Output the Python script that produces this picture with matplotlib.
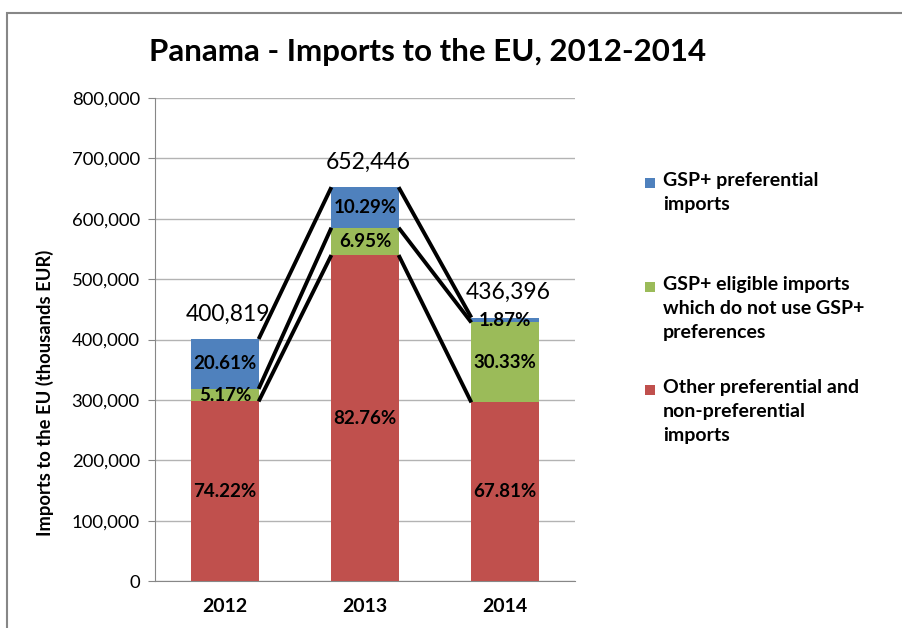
import matplotlib
matplotlib.use('Agg')
import matplotlib.pyplot as plt
from matplotlib.patches import Rectangle
from matplotlib.ticker import FuncFormatter

# data
years = ['2012', '2013', '2014']
totals = [400819, 652446, 436396]
pct_other = [74.22, 82.76, 67.81]
pct_eligible = [5.17, 6.95, 30.33]
pct_gsp = [20.61, 10.29, 1.87]

series_names = [
	'GSP+ preferential\nimports',
	'GSP+ eligible imports\nwhich do not use GSP+\npreferences',
	'Other preferential and\nnon-preferential\nimports',
]
colors = ['#4f81bd', '#9bbb59', '#c0504d']

plt.rcParams['font.family'] = ['Lato', 'DejaVu Sans']

# values from shares
other = [t * p / 100 for t, p in zip(totals, pct_other)]
eligible = [t * p / 100 for t, p in zip(totals, pct_eligible)]
gsp = [t * p / 100 for t, p in zip(totals, pct_gsp)]

fig = plt.figure(figsize=(9.03, 6.28), dpi=100)
ax = fig.add_axes([0.1717, 0.0748, 0.465, 0.769])

# outer frame
fig.patches.append(Rectangle((7 / 903, -0.1), 1.2, 1 - 13 / 628 + 0.1,
	transform=fig.transFigure, fill=False, edgecolor='#878787', linewidth=1.5))

x = range(len(years))
w = 0.48
ax.bar(x, other, w, color=colors[2], zorder=3)
ax.bar(x, eligible, w, bottom=other, color=colors[1], zorder=3)
bottom2 = [a + b for a, b in zip(other, eligible)]
ax.bar(x, gsp, w, bottom=bottom2, color=colors[0], zorder=3)
tops = [a + b for a, b in zip(bottom2, gsp)]

# series lines
for level in (other, bottom2, tops):
	for i in range(len(years) - 1):
		ax.plot([i + w / 2, i + 1 - w / 2], [level[i], level[i + 1]],
			color='black', linewidth=2.8, zorder=4, solid_capstyle='butt')

# percent labels
for i in x:
	ax.text(i, other[i] / 2, '%.2f%%' % pct_other[i], ha='center', va='center',
		fontsize=13.5, fontweight='bold', zorder=5)
	ax.text(i, other[i] + eligible[i] / 2, '%.2f%%' % pct_eligible[i], ha='center',
		va='center', fontsize=13.5, fontweight='bold', zorder=5)
	ax.text(i, bottom2[i] + gsp[i] / 2, '%.2f%%' % pct_gsp[i], ha='center',
		va='center', fontsize=13.5, fontweight='bold', zorder=5)
	ax.annotate('{:,}'.format(totals[i]), (i, tops[i]), xytext=(2, 18),
		textcoords='offset points', ha='center', va='center', fontsize=16.5, zorder=5)

ax.set_xlim(-0.5, 2.5)
ax.set_ylim(0, 800000)
ax.set_yticks(range(0, 800001, 100000))
ax.yaxis.set_major_formatter(FuncFormatter(lambda v, p: '{:,}'.format(int(v))))
ax.set_xticks(list(x))
ax.set_xticklabels(years, fontweight='bold', fontsize=14)
ax.tick_params(axis='y', labelsize=13.3, length=5, color='#878787', pad=6)
ax.tick_params(axis='x', length=0, pad=12)
ax.grid(axis='y', color='#b3b3b3', linewidth=1, zorder=0)
for s in ('top', 'right'):
	ax.spines[s].set_visible(False)
for s in ('left', 'bottom'):
	ax.spines[s].set_color('#878787')

fig.text(45 / 903, 1 - 393 / 628, 'Imports to the EU (thousands EUR)', rotation=90,
	ha='center', va='center', fontsize=13.2, fontweight='bold')

fig.text(0.474, 0.917, 'Panama - Imports to the EU, 2012-2014', ha='center', va='center',
	fontsize=22.5, fontweight='bold')

# legend, entries spaced evenly like the original
legend_colors = [colors[0], colors[1], colors[2]]
legend_y = [183, 287, 390]
for name, c, yy in zip(series_names, legend_colors, legend_y):
	fig.patches.append(Rectangle((645 / 903, 1 - (yy + 5) / 628), 10 / 903, 10 / 628,
		transform=fig.transFigure, facecolor=c, edgecolor='none'))
	fig.text(663 / 903, 1 - (yy - 11) / 628, name, ha='left', va='top',
		fontsize=14, fontweight='bold', linespacing=1.5)

fig.savefig('out.png', dpi=100)
